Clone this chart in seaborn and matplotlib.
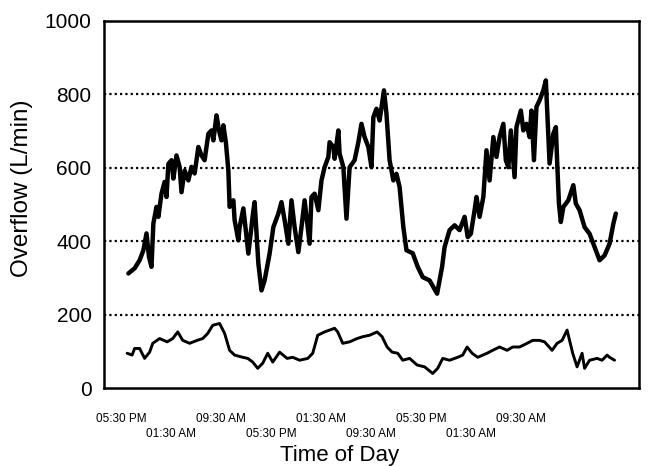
import matplotlib
matplotlib.use("Agg")
import matplotlib.pyplot as plt
import seaborn as sns
import pandas as pd

# Hours since 05:30 PM of the first day
upper_hours = [1.2, 2.2, 3.0, 3.6, 4.1, 4.5, 4.9, 5.2, 5.7, 6.0, 6.5, 7.0, 7.3, 7.6, 8.1,
               8.4, 8.9, 9.4, 9.7, 10.2, 10.8, 11.3, 11.8, 12.4, 12.9, 13.4, 14.0, 14.5,
               14.8, 15.3, 15.7, 16.1, 16.4, 16.8, 17.2, 17.4, 18.0, 18.2, 18.8, 19.0, 19.6,
               20.4, 21.2, 21.4, 22.0, 22.5, 23.0, 23.8, 24.4, 25.2, 25.7, 26.2, 26.8, 27.3,
               27.8, 28.4, 28.9, 29.4, 30.2, 30.5, 31.0, 31.6, 32.1, 32.6, 33.2, 33.4, 34.0,
               34.2, 34.8, 35.0, 35.6, 36.1, 36.6, 37.4, 38.0, 38.5, 39.0, 39.6, 40.1, 40.4,
               40.9, 41.4, 42.1, 42.5, 43.0, 43.6, 44.1, 44.6, 45.2, 45.7, 46.7, 47.5, 48.3,
               49.4, 50.6, 51.4, 51.8, 52.6, 53.4, 54.2, 55.0, 55.5, 56.0, 56.6, 56.9, 57.4,
               58.0, 58.5, 59.0, 59.6, 60.1, 60.6, 61.2, 61.6, 62.0, 62.4, 63.0, 63.3, 64.0,
               64.4, 64.9, 65.4, 65.7, 66.1, 66.5, 67.0, 67.6, 68.0, 68.4, 68.6, 69.2, 69.6,
               69.8, 70.1, 70.4, 70.8, 71.6, 72.4, 72.8, 73.4, 74.2, 75.0, 75.8, 76.6, 77.4,
               78.2, 78.8, 79.2]
upper_flow = [312, 326, 348, 375, 421, 357, 330, 448, 493, 466, 529, 561, 520, 610, 620,
              570, 633, 602, 533, 592, 565, 602, 584, 656, 633, 620, 692, 701,
              674, 742, 701, 674, 715, 669, 592, 493, 511, 457, 402, 438, 489,
              366, 484, 506, 339, 266, 293, 366, 438, 475, 506, 457, 393, 511,
              438, 370, 438, 511, 393, 520, 529, 484, 565, 601, 629, 669, 656,
              624, 701, 638, 601, 461, 601, 620, 669, 719, 683, 656, 601, 737,
              760, 728, 810, 746, 620, 565, 583, 547, 438, 375, 367, 330, 302,
              293, 257, 330, 384, 430, 443, 430, 466, 411, 420, 484, 520, 466,
              520, 647, 565, 683, 629, 683, 719, 620, 601, 701, 574, 710, 755,
              701, 719, 683, 755, 620, 765, 783, 810, 837, 683, 611, 692, 710,
              620, 502, 452, 493, 511, 552, 502, 484, 438, 420, 384, 348, 361,
              393, 447, 475]

lower_hours = [1.0, 1.8, 2.2, 3.0, 3.8, 4.6, 5.1, 6.2, 7.4, 8.3, 9.1, 9.9, 11.0, 12.2, 13.1,
               13.9, 14.7, 15.8, 16.6, 17.4, 18.2, 19.5, 20.3, 21.1, 21.9, 22.7, 23.5, 24.3,
               25.4, 26.6, 27.5, 28.6, 29.9, 30.7, 31.5, 32.6, 33.4, 34.2, 34.7, 35.5, 36.6,
               37.8, 38.7, 39.8, 41.0, 41.8, 42.6, 43.4, 44.3, 45.1, 46.2, 47.4, 48.6, 49.9,
               50.7, 51.5, 52.6, 53.9, 54.7, 55.4, 56.2, 57.1, 58.6, 59.5, 60.6, 61.8, 62.7,
               63.8, 65.0, 65.9, 67.0, 67.8, 69.0, 69.8, 70.6, 71.4, 71.8, 72.3, 73.0, 73.8,
               74.2, 75.0, 76.2, 77.0, 77.8, 78.2, 79.0]
lower_flow = [95, 90, 108, 108, 81, 98, 122, 135, 126, 135, 153, 130, 122, 130, 135,
              149, 171, 176, 149, 103, 90, 84, 81, 71, 54, 68, 95, 71,
              98, 81, 84, 76, 81, 95, 144, 153, 158, 163, 153, 122, 126,
              135, 140, 144, 153, 140, 112, 98, 95, 76, 81, 63, 58, 40,
              54, 81, 76, 84, 90, 112, 95, 84, 95, 103, 112, 103, 112,
              112, 122, 130, 130, 126, 103, 122, 130, 158, 130, 95, 58, 95,
              54, 76, 81, 76, 90, 84, 76]

tick_hours = [0, 8, 16, 24, 32, 40, 48, 56, 64]
tick_labels = ["05:30 PM", "01:30 AM", "09:30 AM", "05:30 PM", "01:30 AM",
               "09:30 AM", "05:30 PM", "01:30 AM", "09:30 AM"]
y_ticks = [0, 200, 400, 600, 800, 1000]

sns.set_style("white")
plt.rcParams["font.family"] = ["Liberation Sans", "DejaVu Sans"]
plt.rcParams["text.color"] = "black"
plt.rcParams["axes.labelcolor"] = "black"
plt.rcParams["xtick.color"] = "black"
plt.rcParams["ytick.color"] = "black"

fig = plt.figure(figsize=(6.5, 4.66), dpi=100)
ax = fig.add_axes([0.16, 0.167, 0.823, 0.789])

upper_df = pd.DataFrame({"hours": upper_hours, "flow": upper_flow})
lower_df = pd.DataFrame({"hours": lower_hours, "flow": lower_flow})
sns.lineplot(data=upper_df, x="hours", y="flow", color="black", lw=3.2,
             estimator=None, sort=False, ax=ax, zorder=3)
sns.lineplot(data=lower_df, x="hours", y="flow", color="black", lw=2.1,
             estimator=None, sort=False, ax=ax, zorder=3)

ax.set_xlim(-2.7, 82.9)
ax.set_ylim(0, 1000)
ax.set_yticks(y_ticks)
ax.set_yticklabels([str(v) for v in y_ticks], fontsize=15)
for v in y_ticks[1:-1]:
    ax.axhline(v, color="black", lw=1.6, linestyle=(0, (1, 1.4)), zorder=1)

ax.set_xticks(tick_hours)
ax.set_xticklabels([lab if i % 2 == 0 else "\n" + lab for i, lab in enumerate(tick_labels)],
                   fontsize=8.5, linespacing=1.35)
ax.tick_params(axis="x", length=0, pad=18)
ax.tick_params(axis="y", direction="in", length=7, width=1.5, pad=9)

for s in ax.spines.values():
    s.set_color("black")
    s.set_linewidth(1.8)

ax.set_xlabel("Time of Day", fontsize=16, labelpad=0)
ax.xaxis.set_label_coords(0.44, -0.155)
ax.set_ylabel("Overflow (L/min)", fontsize=17.5, labelpad=6)
ax.yaxis.set_label_coords(-0.133, 0.545)

fig.savefig("out.png", dpi=100)
